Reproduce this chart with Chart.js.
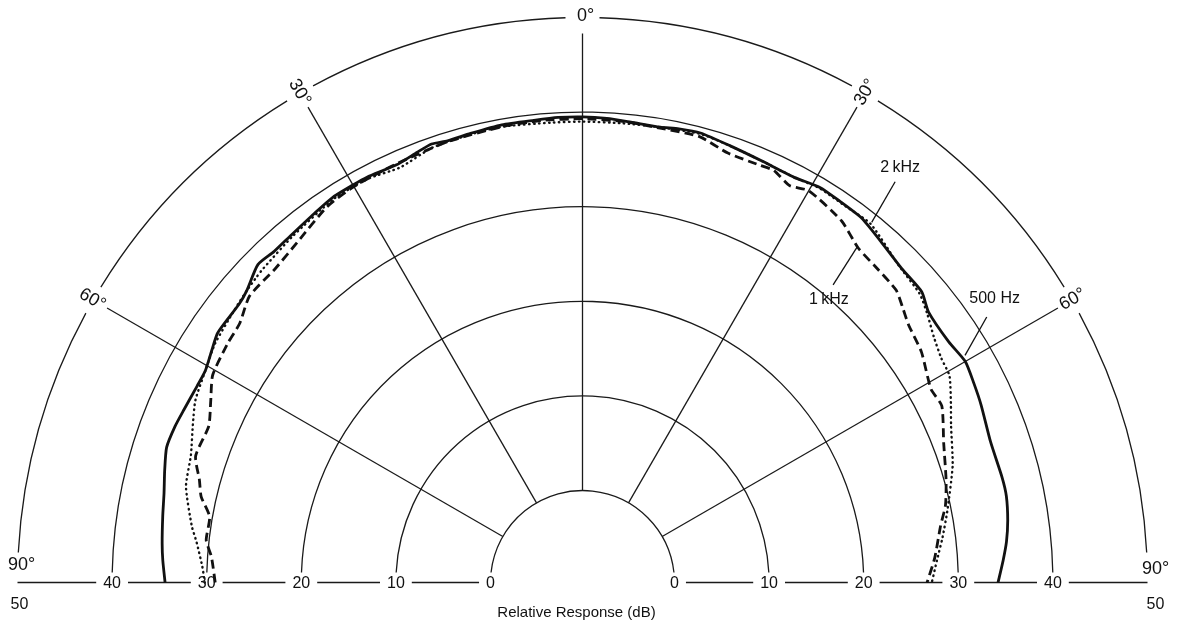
<!DOCTYPE html>
<html>
<head>
<meta charset="utf-8">
<script src="https://cdn.jsdelivr.net/npm/chart.js@4.4.1/dist/chart.umd.min.js"></script>
<style>
html,body{margin:0;padding:0;background:#fff;}
canvas{display:block;}
</style>
</head>
<body>
<canvas id="c" width="1177" height="628"></canvas>
<script>
// ---------- data ----------
const ringValues = [0, 10, 20, 30, 40, 50];
const baseTickLabels = ['0', '10', '20', '30', '40'];
const spokeAngles = [-60, -30, 0, 30, 60];
const spokeLabels = ['60°', '30°', '0°', '30°', '60°'];
const endAngleLabel = '90°';
const endValueLabel = '50';
const axisTitle = 'Relative Response (dB)';

// 500 Hz (solid)
const angles500 = [-90,-87,-84.7,-81,-78,-75,-72,-69,-66.6,-63,-60.7,-58,-55.6,-51,-49,-45.6,-43,-40,-36,-33,-30,-28,-24,-21,-19,-17,-14,-10,-6,-3,0,3,6,9.7,12,14.7,18.7,23,27.6,31,34,37.4,41,45.5,49.4,52,56.7,60,63,66,71,76,78.5,81.7,84.5,87,90];
const db500 = [34.4,34.7,34.9,35.2,35.5,36.0,36.5,36.4,36.2,36.0,36.0,36.5,37.0,37.0,37.3,38.3,38.1,38.2,38.5,38.8,38.8,38.8,38.6,39.0,39.3,39.1,39.2,39.4,39.4,39.5,39.5,39.4,39.2,39.1,39.3,39.4,39.0,38.7,38.6,39.0,38.9,38.8,38.2,37.6,37.5,36.7,36.6,37.0,36.7,36.4,35.9,36.0,36.0,35.7,35.3,34.8,34.2];

// 1 kHz (dashed)
const angles1k = [-90,-86,-83.6,-80,-77.3,-75,-71.9,-67.3,-64,-60.7,-56,-52.9,-49.3,-44.4,-40,-34.2,-30,-24,-17,-10,-5,0,5,9.7,14.7,18.7,23,24.9,27.6,30,35.6,39.5,43,47,49.3,51.7,55.8,61,63.8,68.9,74.3,78,81,86,90];
const db1k = [29.1,29.6,30.3,30.3,31.6,32.2,33.3,33.1,34.0,35.1,35.5,35.7,36.7,36.7,37.2,38.3,38.6,38.7,39.0,39.2,39.3,39.3,39.2,39.0,39.0,38.2,38.2,38.3,37.6,38.1,37.3,36.1,35.8,35.6,34.9,34.2,33.6,32.4,32.6,31.2,30.2,29.5,28.6,27.6,26.7];

// 2 kHz (dotted)
const angles2k = [-90,-87.6,-84,-81.8,-76.4,-72,-68,-64.8,-60.7,-57,-52,-49,-46.8,-45.6,-40,-33,-28,-23.7,-19.1,-14,-10,-4,0,5,9.7,14.7,18.7,23,27.6,31,35,38.8,45,49.4,52,55,58,60.6,64,67,72.5,78.8,83,86.5,90];
const db2k = [30.2,30.5,31.3,32.0,33.4,33.8,34.7,35.5,36.0,36.6,37.0,37.3,37.5,37.6,38.0,38.6,38.6,38.2,38.9,39.1,39.2,39.0,39.0,39.0,39.1,39.3,39.0,38.7,38.6,38.9,38.8,38.9,37.6,37.2,36.5,35.6,35.0,34.8,33.6,32.6,31.3,29.6,28.6,27.8,27.2];

// callouts: text, angle (deg), radial position (dB)
const noteTexts = ['2\u2009kHz', '1\u2009kHz', '500 Hz'];
const noteAngle = [37.45, 41.1, 55.4];
const noteDb = [45.5, 29.9, 43.2];
const leaderFromAngle = [37.96, 40.1, 56.7];
const leaderFromDb = [44.0, 31.4, 41.4];
const leaderToAngle = [38.76, 39.3, 59.3];
const leaderToDb = [39.1, 36.1, 37.3];

// ---------- geometry of the polar frame (layout only) ----------
const PX_PER_DB = 9.46;       // pixel size of one dB
const R0 = 92 / PX_PER_DB;    // inner (0 dB) ring offset, in dB units
const CX = 582.5, CY = 582.5; // pixel location of the pole
const W = 1177, H = 628;
const FONT = "'Liberation Sans', Arial, Helvetica, sans-serif";

const rad = d => d * Math.PI / 180;
function polar(aDeg, dB) {
  const u = dB + R0;
  return { x: u * Math.sin(rad(aDeg)), y: u * Math.cos(rad(aDeg)) };
}
function series(angles, vals) {
  return angles.map((a, i) => polar(a, vals[i]));
}

const frame = {
  id: 'polarFrame',
  beforeDatasetsDraw(chart) {
    const xs = chart.scales.x, ys = chart.scales.y, ctx = chart.ctx;
    const cx = xs.getPixelForValue(0), cy = ys.getPixelForValue(0);
    const rOf = v => xs.getPixelForValue(v + R0) - cx;
    ctx.save();
    ctx.strokeStyle = '#1a1a1a';
    ctx.lineWidth = 1.3;
    // rings
    ringValues.forEach(v => {
      const r = rOf(v);
      const endGap = v === 50 ? 30 : 10;
      const a0 = Math.PI + Math.asin(endGap / r);
      const a1 = 2 * Math.PI - Math.asin(endGap / r);
      let segs = [[a0, a1]];
      if (v === 50) {
        segs = [];
        let s = a0;
        spokeAngles.forEach(t => {
          const c = 1.5 * Math.PI + rad(t);
          const hg = (t === 0 ? 17 : 15) / r;
          segs.push([s, c - hg]);
          s = c + hg;
        });
        segs.push([s, a1]);
      }
      segs.forEach(([p, q]) => {
        ctx.beginPath();
        ctx.arc(cx, cy, r, p, q);
        ctx.stroke();
      });
    });
    // spokes
    spokeAngles.forEach(t => {
      const r1 = rOf(0), r2 = rOf(50) - 16;
      const s = Math.sin(rad(t)), c = Math.cos(rad(t));
      ctx.beginPath();
      ctx.moveTo(cx + r1 * s, cy - r1 * c);
      ctx.lineTo(cx + r2 * s, cy - r2 * c);
      ctx.stroke();
    });
    // baseline with gaps for labels
    ctx.font = '16px ' + FONT;
    const pos = ringValues.map(rOf);
    const gaps = baseTickLabels.map(t => ctx.measureText(t).width / 2 + 7).concat([0]);
    [-1, 1].forEach(side => {
      for (let i = 0; i < pos.length - 1; i++) {
        const a = pos[i] + gaps[i], b = pos[i + 1] - gaps[i + 1];
        ctx.beginPath();
        ctx.moveTo(cx + side * a, cy);
        ctx.lineTo(cx + side * b, cy);
        ctx.stroke();
      }
    });
    ctx.restore();
  },
  afterDatasetsDraw(chart) {
    const xs = chart.scales.x, ys = chart.scales.y, ctx = chart.ctx;
    const cx = xs.getPixelForValue(0), cy = ys.getPixelForValue(0);
    const rOf = v => xs.getPixelForValue(v + R0) - cx;
    const px = (a, d) => {
      const p = polar(a, d);
      return [xs.getPixelForValue(p.x), ys.getPixelForValue(p.y)];
    };
    ctx.save();
    ctx.fillStyle = '#111';
    ctx.textAlign = 'center';
    ctx.textBaseline = 'middle';
    // angle labels
    ctx.font = '18px ' + FONT;
    spokeAngles.forEach((t, i) => {
      const r = rOf(50) + 1;
      const x = cx + r * Math.sin(rad(t)), y = cy - r * Math.cos(rad(t));
      ctx.save();
      ctx.translate(x, y);
      const rot = t === 0 ? 0 : (t > 0 ? t - 90 : t + 90);
      ctx.rotate(rad(rot));
      ctx.fillText(spokeLabels[i], t === 0 ? 3 : 0, 0);
      ctx.restore();
    });
    // 90° end labels
    const r50 = rOf(50);
    ctx.fillText(endAngleLabel, cx - r50 + 4, cy - 17);
    ctx.fillText(endAngleLabel, cx + r50 + 8, cy - 13);
    ctx.font = '16px ' + FONT;
    ctx.fillText(endValueLabel, cx - r50 + 2, cy + 22);
    ctx.fillText(endValueLabel, cx + r50 + 8, cy + 22);
    // baseline tick labels
    baseTickLabels.forEach((t, i) => {
      const r = rOf(ringValues[i]);
      ctx.fillText(t, cx - r, cy + 1);
      ctx.fillText(t, cx + r, cy + 1);
    });
    // axis title
    ctx.font = '15px ' + FONT;
    ctx.fillText(axisTitle, cx - 6, cy + 30);
    // callouts
    ctx.font = '16px ' + FONT;
    ctx.strokeStyle = '#111';
    ctx.lineWidth = 1.3;
    noteTexts.forEach((t, i) => {
      const [tx, ty] = px(noteAngle[i], noteDb[i]);
      ctx.fillText(t, tx, ty);
      const [ax, ay] = px(leaderFromAngle[i], leaderFromDb[i]);
      const [bx, by] = px(leaderToAngle[i], leaderToDb[i]);
      ctx.beginPath();
      ctx.moveTo(ax, ay);
      ctx.lineTo(bx, by);
      ctx.stroke();
    });
    ctx.restore();
  }
};

const k = PX_PER_DB;
new Chart(document.getElementById('c'), {
  type: 'scatter',
  data: {
    datasets: [
      { label: '500 Hz', data: series(angles500, db500), showLine: true,
        borderColor: '#111', borderWidth: 2.8, pointRadius: 0, tension: 0.2 },
      { label: '1 kHz', data: series(angles1k, db1k), showLine: true,
        borderColor: '#111', borderWidth: 2.8, borderDash: [9, 5], pointRadius: 0, tension: 0.2 },
      { label: '2 kHz', data: series(angles2k, db2k), showLine: true,
        borderColor: '#111', borderWidth: 2.4, borderDash: [0.5, 4.5], borderCapStyle: 'round',
        pointRadius: 0, tension: 0.2 }
    ]
  },
  options: {
    responsive: false,
    animation: false,
    layout: { padding: 0 },
    plugins: { legend: { display: false }, tooltip: { enabled: false } },
    scales: {
      x: { type: 'linear', display: false, min: -CX / k, max: (W - CX) / k },
      y: { type: 'linear', display: false, min: -(H - CY) / k, max: CY / k }
    }
  },
  plugins: [frame]
});
</script>
</body>
</html>
